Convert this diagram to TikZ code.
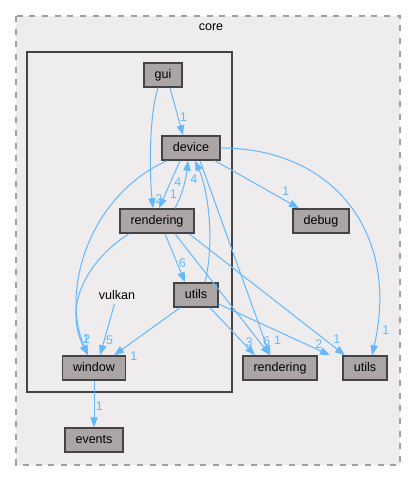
\documentclass[tikz,border=0pt]{standalone}
\usepackage{fontspec}
\setmainfont{Liberation Sans}
\usetikzlibrary{arrows.meta,calc}
\definecolor{DirFill}{HTML}{ABA5A5}
\definecolor{DirLine}{HTML}{444444}
\definecolor{DepBlue}{HTML}{63B8FF}
\definecolor{CoreBack}{HTML}{EEECED}
\definecolor{CoreDash}{HTML}{A0A0A0}

\begin{document}
\begin{tikzpicture}[
  x=0.75pt, y=-0.75pt,
  font=\fontsize{9.4}{11}\selectfont,
  dir/.style={
    draw=DirLine,
    line width=1.1pt,
    fill=DirFill,
    minimum height=18pt,
    inner xsep=8pt,
    text height=7pt,
    text depth=2pt
  },
  dep/.style={-{Triangle[length=7.5pt,width=5.5pt]},line width=0.75pt,draw=DepBlue},
  lbl/.style={text=DepBlue,inner sep=1pt}
]
  \useasboundingbox (0,0) rectangle (416,481);
  % clusters
  \draw[CoreDash,fill=CoreBack,line width=1.5pt,dash pattern=on 4.5pt off 5pt] (16,16) rectangle (400,465);
  \node (core) at (211,27) {core};
  \draw[DirLine,line width=2.2pt] (27,52) rectangle (232,392);

  \node[dir] (gui) at (163,75) {gui};
  \node[dir] (device) at (191,148) {device};
  \node[dir] (rendering) at (157,221) {rendering};
  \node[dir] (utils) at (196,295) {utils};
  \node (vulkan) at (117,295) {vulkan};
  \node[dir] (window) at (94,368) {window};
  \node[dir] (debug) at (321,221) {debug};
  \node[dir] (corerendering) at (280,368) {rendering};
  \node[dir] (coreutils) at (365,368) {utils};
  \node[dir] (events) at (94,440) {events};

  % dependencies
  \draw[dep] ($(gui.south)+(7,0)$) -- ($(device.north)+(-8,0)$)
    node[lbl,pos=0.62,right] {1};
  \draw[dep] ($(gui.south)+(-5,0)$) .. controls (148,120) and (150,180) .. ($(rendering.north)+(-4,0)$)
    node[lbl,pos=0.9,right,xshift=1pt] {2};
  \draw[dep] ($(device.south)+(-11,0)$) -- ($(rendering.north)+(2,0)$)
    node[lbl,pos=0.7,right,xshift=2pt] {1};
  \draw[dep] ($(rendering.north)+(18,0)$) .. controls (182,195) and (186,180) .. ($(device.south)+(-3,0)$)
    node[lbl,pos=0.6,left,xshift=-1pt] {4};
  \draw[dep] ($(utils.north)+(9,0)$) .. controls (215,240) and (208,190) .. ($(device.south)+(4,0)$)
    node[lbl,pos=0.85,left,xshift=-1pt,yshift=-3pt] {4};
  \draw[dep] ($(device.south)+(24,0)$) -- ($(debug.north)+(-22,0)$)
    node[lbl,pos=0.78,above right] {1};
  \draw[dep] (device.east) .. controls (335,148) and (400,235) .. ($(coreutils.north)+(7,0)$)
    node[lbl,pos=0.93,right,xshift=3pt] {1};
  \draw[dep] ($(device.south)+(-24,0)$) .. controls (90,195) and (60,290) .. ($(window.north)+(-6,0)$)
    node[lbl,pos=0.92,right,xshift=-1pt] {1};
  \draw[dep] ($(rendering.south)+(-28,0)$) .. controls (95,255) and (60,300) .. ($(window.north)+(-6,0)$)
    node[lbl,pos=0.9,right] {2};
  \draw[dep] (vulkan) -- ($(window.north)+(6,0)$)
    node[lbl,pos=0.7,right] {5};
  \draw[dep] ($(utils.south)+(-16,0)$) -- ($(window.north)+(20,0)$)
    node[lbl,pos=0.9,below right,xshift=6pt] {1};
  \draw[dep] ($(rendering.south)+(8,0)$) -- ($(utils.north)+(-11,0)$)
    node[lbl,pos=0.6,right] {6};
  \draw[dep] ($(rendering.south)+(18,0)$) -- ($(corerendering.north)+(-10,0)$)
    node[lbl,pos=0.88,right,xshift=2pt] {6};
  \draw[dep] ($(rendering.south)+(32,0)$) -- ($(coreutils.north)+(-20,0)$)
    node[lbl,pos=0.88,right,xshift=4pt,yshift=1pt] {1};
  \draw[dep] ($(utils.south)+(14,0)$) -- ($(corerendering.north)+(-25,0)$)
    node[lbl,pos=0.72,right,xshift=1pt] {3};
  \draw[dep] ($(utils.east)+(0,9)$) -- ($(coreutils.north)+(-35,0)$)
    node[lbl,pos=0.9,above,yshift=0pt] {2};
  \draw[dep] ($(device.south)+(9,0)$) -- ($(corerendering.north)+(-10,0)$)
    node[lbl,pos=0.92,right,xshift=6pt] {1};
  \draw[dep] (window) -- (events)
    node[lbl,pos=0.55,right] {1};
\end{tikzpicture}
\end{document}
